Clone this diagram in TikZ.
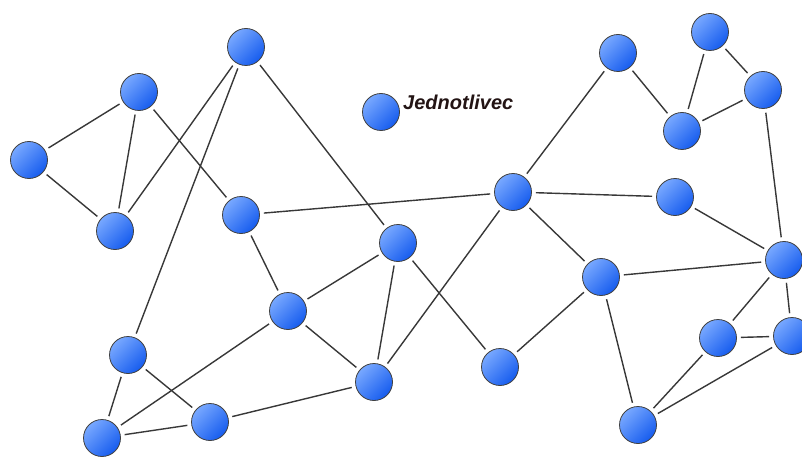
\documentclass[tikz,border=0pt]{standalone}
\usepackage{fontspec}
\setmainfont{Liberation Sans}
\begin{document}
\begin{tikzpicture}[x=1pt,y=-1pt,
  person/.style={circle, minimum size=37pt, inner sep=0pt, draw=black!75, line width=0.8pt,
    top color={rgb,255:red,120;green,168;blue,255}, bottom color={rgb,255:red,22;green,92;blue,238}, shading angle=45},
  link/.style={draw=black!78, line width=1.4pt, shorten >=4pt, shorten <=4pt},
  lbl/.style={anchor=west, inner sep=0pt, font=\fontsize{20}{24}\selectfont\bfseries\itshape, text={rgb,255:red,35;green,20;blue,20}}]
\useasboundingbox (0,0) rectangle (802,457);
\node[person] (A) at (29,160) {};
\node[person] (B) at (139,92) {};
\node[person] (C) at (115,231) {};
\node[person] (D) at (246,47) {};
\node[person] (E) at (241,215) {};
\node[person] (F) at (381,112) {};
\node[person] (G) at (398,243) {};
\node[person] (H) at (288,311) {};
\node[person] (I) at (128,355) {};
\node[person] (J) at (102,438) {};
\node[person] (K) at (210,422) {};
\node[person] (L) at (374,382) {};
\node[person] (M) at (500,367) {};
\node[person] (N) at (513,192) {};
\node[person] (O) at (601,277) {};
\node[person] (P) at (618,53) {};
\node[person] (Q) at (710,32) {};
\node[person] (R) at (763,90) {};
\node[person] (S) at (682,131) {};
\node[person] (T) at (675,197) {};
\node[person] (U) at (784,260) {};
\node[person] (V) at (718,338) {};
\node[person] (W) at (792,336) {};
\node[person] (X) at (638,425) {};
\node[lbl] (txt) at (403,102) {Jednotlivec};
\foreach \a/\b in {A/B,A/C,B/C,B/E,C/D,D/I,D/G,E/N,E/H,H/G,H/L,H/J,I/J,I/K,J/K,K/L,G/L,G/M,L/N,N/O,O/M,N/P,P/S,Q/S,Q/R,S/R,R/U,N/T,T/U,O/U,O/X,U/V,U/W,V/W,V/X,X/W}
  \path[link] (\a) -- (\b);
\end{tikzpicture}
\end{document}
